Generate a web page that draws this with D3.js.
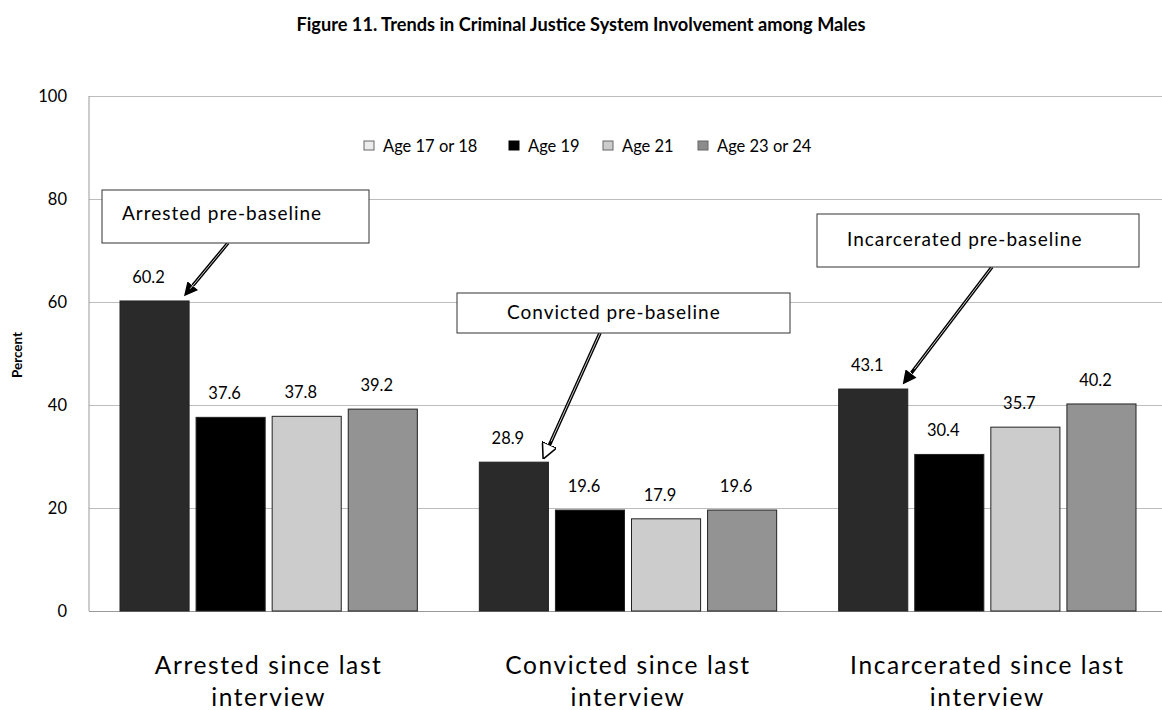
<!DOCTYPE html>
<html>
<head>
<meta charset="utf-8">
<script src="https://cdnjs.cloudflare.com/ajax/libs/d3/7.8.5/d3.min.js"></script>
<style>
  body { margin: 0; background: #fff; }
  text { font-family: Lato, "Open Sans", sans-serif; fill: #000; }
</style>
</head>
<body>
<div id="chart"></div>
<script>
// chart data
var categories = [
    ["Arrested since last", "interview"],
    ["Convicted since last", "interview"],
    ["Incarcerated since last", "interview"]
];
var seriesNames = ["Age 17 or 18", "Age 19", "Age 21", "Age 23 or 24"];
var age1718 = [60.2, 28.9, 43.1];
var age19 = [37.6, 19.6, 30.4];
var age21 = [37.8, 17.9, 35.7];
var age2324 = [39.2, 19.6, 40.2];
var yTicks = [0, 20, 40, 60, 80, 100];
var callouts = ["Arrested pre-baseline", "Convicted pre-baseline", "Incarcerated pre-baseline"];

var seriesValues = [age1718, age19, age21, age2324];
var fills = ["#2a2a2a", "#000000", "#cccccc", "#939393"],
    legendFills = ["#ececec", "#000000", "#cccccc", "#8c8c8c"];

var W = 1162, H = 710;
var svg = d3.select("#chart").append("svg")
    .attr("width", W)
    .attr("height", H);

var x0 = d3.scaleBand()
    .domain(d3.range(categories.length))
    .range([89, 1167]);
var x1 = d3.scaleBand()
    .domain(d3.range(seriesNames.length))
    .range([31, x0.bandwidth() - 31])
    .paddingInner(0.092);
var y = d3.scaleLinear()
    .domain([0, 100])
    .range([611, 96]);

// title
svg.append("text")
    .attr("x", 581)
    .attr("y", 31)
    .attr("text-anchor", "middle")
    .style("font-weight", "bold")
    .style("font-size", "18.2px")
    .text("Figure 11. Trends in Criminal Justice System Involvement among Males");

// grid
var yAxis = d3.axisLeft(y)
    .tickValues(yTicks)
    .tickSize(-(W - 89))
    .tickPadding(22);
var gy = svg.append("g")
    .attr("transform", "translate(89,0)")
    .call(yAxis);
gy.select(".domain").remove();
gy.selectAll(".tick line").attr("stroke", "#bdbdbd");
gy.selectAll(".tick text")
    .style("font-size", "16.5px")
    .style("font-family", "Lato, sans-serif");
gy.selectAll(".tick").filter(function(d) { return d === 0; })
    .select("line").attr("stroke", "#999");

svg.append("line")
    .attr("x1", 89).attr("x2", 89)
    .attr("y1", y(100)).attr("y2", y(0))
    .attr("stroke", "#999");

svg.append("text")
    .attr("transform", "translate(22," + 355 + ") rotate(-90)")
    .attr("text-anchor", "middle")
    .style("font-weight", "bold")
    .style("font-size", "13.5px")
    .text("Percent");

// bars
var groups = svg.selectAll(".group")
    .data(categories)
    .enter().append("g")
    .attr("class", "group")
    .attr("transform", function(d, i) { return "translate(" + x0(i) + ",0)"; });

groups.each(function(c, ci) {
    var g = d3.select(this);
    seriesValues.forEach(function(vals, si) {
        g.append("rect")
            .attr("x", x1(si))
            .attr("y", y(vals[ci]))
            .attr("width", x1.bandwidth())
            .attr("height", y(0) - y(vals[ci]))
            .attr("fill", fills[si])
            .attr("stroke", "#222")
            .attr("stroke-width", 1);
        g.append("text")
            .attr("x", x1(si) + x1.bandwidth() / 2 - 6)
            .attr("y", y(vals[ci]) - 18)
            .attr("text-anchor", "middle")
            .style("font-size", "16.5px")
            .text(vals[ci]);
    });
    var lab = g.append("text")
        .attr("x", x0.bandwidth() / 2)
        .attr("text-anchor", "middle")
        .style("font-size", "24.5px")
        .style("letter-spacing", "1.6px");
    c.forEach(function(line, li) {
        lab.append("tspan")
            .attr("x", x0.bandwidth() / 2)
            .attr("y", 674 + li * 32)
            .text(line);
    });
});

// legend
var legendX = [364, 509, 603, 698];
var legend = svg.selectAll(".legend")
    .data(seriesNames)
    .enter().append("g")
    .attr("class", "legend")
    .attr("transform", function(d, i) { return "translate(" + legendX[i] + ",141)"; });
legend.append("rect")
    .attr("width", 10)
    .attr("height", 9)
    .attr("fill", function(d, i) { return legendFills[i]; })
    .attr("stroke", function(d, i) { return i == 1 ? "#000" : "#666"; });
legend.append("text")
    .attr("x", 19)
    .attr("y", 10.5)
    .style("font-size", "16.5px")
    .text(function(d) { return d; });

// callouts
var defs = svg.append("defs");
defs.append("marker")
    .attr("id", "headSolid")
    .attr("viewBox", "0 0 10 10")
    .attr("refX", 8).attr("refY", 5)
    .attr("markerWidth", 4.5).attr("markerHeight", 4.5)
    .attr("orient", "auto")
    .append("path")
    .attr("d", "M0,0L10,5L0,10z")
    .attr("fill", "#000")
    .attr("stroke", "#fff")
    .attr("stroke-width", 0.8);
defs.append("marker")
    .attr("id", "headOpen")
    .attr("viewBox", "0 0 10 10")
    .attr("refX", 8).attr("refY", 5)
    .attr("markerWidth", 4.5).attr("markerHeight", 4.5)
    .attr("orient", "auto")
    .append("path")
    .attr("d", "M0,0L10,5L0,10z")
    .attr("fill", "#fff")
    .attr("stroke", "#000")
    .attr("stroke-width", 1);

var boxes = [
    { x: 102, y: 190, w: 267, h: 53, start: [228, 243], head: "headSolid", tx: 122, ty: 220 },
    { x: 457, y: 293, w: 333, h: 40, start: [600, 333], head: "headOpen", tx: 507, ty: 319 },
    { x: 817, y: 214, w: 322, h: 53, start: [992, 267], head: "headSolid", tx: 847, ty: 246 }
];
boxes.forEach(function(b, i) {
    var tx = x0(i) + x1(0) + x1.bandwidth() - 4,
        ty = y(age1718[i]) - 6;
    svg.append("line")
        .attr("x1", b.start[0]).attr("y1", b.start[1])
        .attr("x2", tx).attr("y2", ty)
        .attr("stroke", "#000")
        .attr("stroke-width", 3.5)
        .attr("marker-end", "url(#" + b.head + ")");
    svg.append("line")
        .attr("x1", b.start[0]).attr("y1", b.start[1])
        .attr("x2", tx + (b.start[0] - tx) * 0.12).attr("y2", ty + (b.start[1] - ty) * 0.12)
        .attr("stroke", "#fff")
        .attr("stroke-width", 0.8);
    svg.append("rect")
        .attr("x", b.x).attr("y", b.y)
        .attr("width", b.w).attr("height", b.h)
        .attr("fill", "#fff")
        .attr("stroke", "#333")
        .attr("stroke-width", 1);
    svg.append("text")
        .attr("x", b.tx)
        .attr("y", b.ty)
        .style("font-size", "19px")
        .style("letter-spacing", "1px")
        .text(callouts[i]);
});
</script>
</body>
</html>
